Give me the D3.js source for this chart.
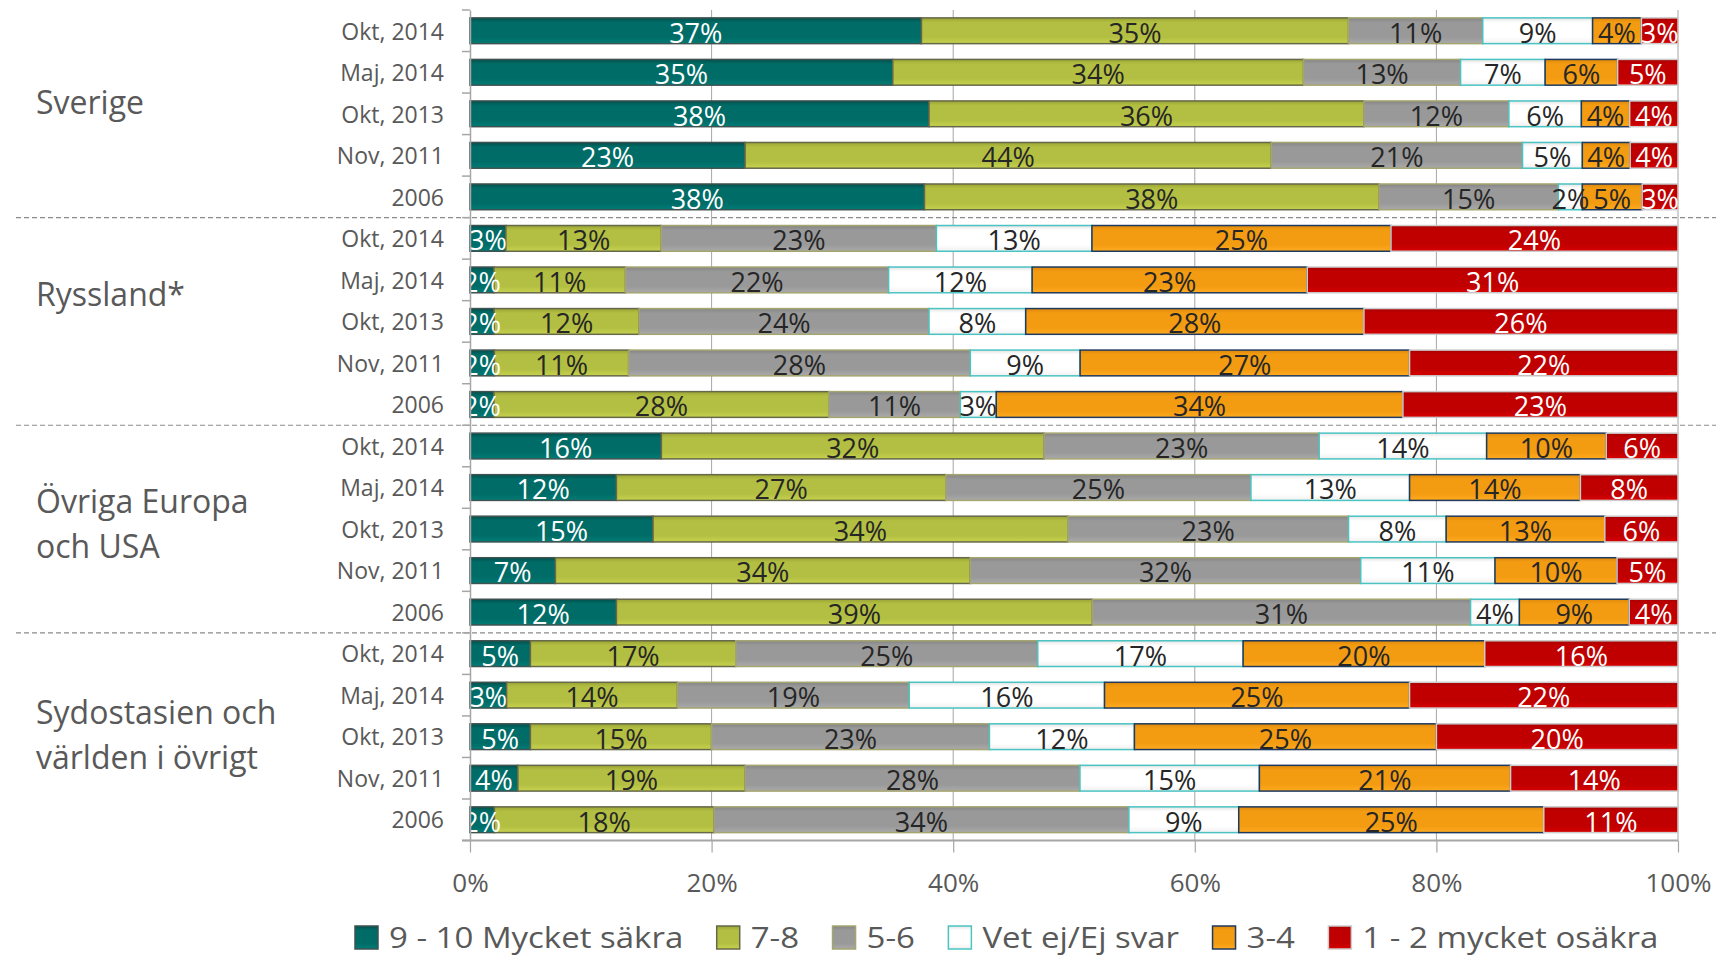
<!DOCTYPE html>
<html>
<head>
<meta charset="utf-8">
<script src="https://cdn.jsdelivr.net/npm/d3@7.9.0/dist/d3.min.js"></script>
<style>
  body { margin: 0; background: #fff; }
  svg { display: block; font-family: "Open Sans", sans-serif; }
</style>
</head>
<body>
<svg id="chart" width="1716" height="957"></svg>
<script>
// data
const groups = ['Sverige', 'Ryssland*', 'Övriga Europa och USA', 'Sydostasien och världen i övrigt'];
const groupLines = [['Sverige'], ['Ryssland*'], ['Övriga Europa', 'och USA'], ['Sydostasien och', 'världen i övrigt']];
const periods = ['Okt, 2014', 'Maj, 2014', 'Okt, 2013', 'Nov, 2011', '2006'];
const series = ['9 - 10 Mycket säkra', '7-8', '5-6', 'Vet ej/Ej svar', '3-4', '1 - 2 mycket osäkra'];
const xTicks = [0, 0.2, 0.4, 0.6, 0.8, 1];

const sverige = [
  [37, 35, 11, 9, 4, 3],
  [35, 34, 13, 7, 6, 5],
  [38, 36, 12, 6, 4, 4],
  [23, 44, 21, 5, 4, 4],
  [38, 38, 15, 2, 5, 3]
];
const ryssland = [
  [3, 13, 23, 13, 25, 24],
  [2, 11, 22, 12, 23, 31],
  [2, 12, 24, 8, 28, 26],
  [2, 11, 28, 9, 27, 22],
  [2, 28, 11, 3, 34, 23]
];
const ovrigaEuropa = [
  [16, 32, 23, 14, 10, 6],
  [12, 27, 25, 13, 14, 8],
  [15, 34, 23, 8, 13, 6],
  [7, 34, 32, 11, 10, 5],
  [12, 39, 31, 4, 9, 4]
];
const sydostasien = [
  [5, 17, 25, 17, 20, 16],
  [3, 14, 19, 16, 25, 22],
  [5, 15, 23, 12, 25, 20],
  [4, 19, 28, 15, 21, 14],
  [2, 18, 34, 9, 25, 11]
];
const groupValues = [sverige, ryssland, ovrigaEuropa, sydostasien];

// styling per series: gradient top / middle / bottom, outline, label colour
const fills = [
  ['#00504c', '#006c67', '#007c76'],
  ['#9aa535', '#b3bf42', '#c6d24d'],
  ['#858585', '#999999', '#aaaaaa'],
  ['#e4e4e4', '#ffffff', '#f0f0f0'],
  ['#df890c', '#f39c12', '#ffaa20'],
  ['#a80000', '#c00000', '#d80000']
];
const outlines = ['#3e5250', '#66684a', '#a5a570', '#4bc3c3', '#1f3a5f', '#cccccc'];
const labelColors = ['#ffffff', '#262626', '#262626', '#262626', '#262626', '#ffffff'];

const textGray = '#595959';
const axisGray = '#a6a6a6';

const svg = d3.select('#chart');
const plotLeft = 470, plotRight = 1678, plotTop = 10, plotBottom = 840.5;

const rows = groups.flatMap((g, gi) => periods.map((p, pi) => ({
  key: gi + '|' + p,
  group: gi,
  period: p,
  values: groupValues[gi][pi]
})));

const x = d3.scaleLinear().domain([0, 1]).range([plotLeft, plotRight]);
const y = d3.scaleBand()
  .domain(rows.map(d => d.key))
  .range([plotTop, plotBottom])
  .paddingInner(0.38)
  .paddingOuter(0.19);

const stack = d3.stack()
  .keys(d3.range(series.length))
  .value((d, k) => d.values[k])
  .offset(d3.stackOffsetExpand);
const layers = stack(rows);

// gradients
const defs = svg.append('defs');
fills.forEach((f, i) => {
  const g = defs.append('linearGradient')
    .attr('id', 'grad' + i)
    .attr('x1', 0).attr('y1', 0).attr('x2', 0).attr('y2', 1);
  g.append('stop').attr('offset', '0%').attr('stop-color', f[0]);
  g.append('stop').attr('offset', '18%').attr('stop-color', f[1]);
  g.append('stop').attr('offset', '75%').attr('stop-color', f[1]);
  g.append('stop').attr('offset', '100%').attr('stop-color', f[2]);
});
defs.append('clipPath').attr('id', 'plotClip')
  .append('rect')
  .attr('x', plotLeft).attr('y', plotTop)
  .attr('width', plotRight - plotLeft).attr('height', plotBottom - plotTop);

// gridlines
svg.append('g')
  .selectAll('line')
  .data(xTicks.slice(1))
  .join('line')
  .attr('x1', d => x(d)).attr('x2', d => x(d))
  .attr('y1', plotTop).attr('y2', plotBottom)
  .attr('stroke', axisGray)
  .attr('stroke-width', 1);

// group separators
const step = y.step();
const gap = step * y.paddingInner() / 2;
svg.append('g')
  .selectAll('line')
  .data(groups.slice(1).map((g, i) => rows[(i + 1) * periods.length].key))
  .join('line')
  .attr('x1', 16).attr('x2', 1716)
  .attr('y1', d => y(d) - gap).attr('y2', d => y(d) - gap)
  .attr('stroke', '#8c8c8c')
  .attr('stroke-width', 1.2)
  .attr('stroke-dasharray', '5,3');

// bars
const barGroup = svg.append('g');
layers.forEach((layer, k) => {
  barGroup.append('g')
    .selectAll('rect')
    .data(layer)
    .join('rect')
    .attr('x', d => x(d[0]))
    .attr('y', d => y(d.data.key))
    .attr('width', d => x(d[1]) - x(d[0]))
    .attr('height', y.bandwidth())
    .attr('fill', `url(#grad${k})`)
    .attr('stroke', outlines[k])
    .attr('stroke-width', 1.5);
});

// data labels
const labelGroup = svg.append('g').attr('clip-path', 'url(#plotClip)');
layers.forEach((layer, k) => {
  labelGroup.append('g')
    .selectAll('text')
    .data(layer)
    .join('text')
    .attr('x', d => (x(d[0]) + x(d[1])) / 2)
    .attr('y', d => y(d.data.key) + y.bandwidth() - 1)
    .attr('text-anchor', 'middle')
    .attr('font-size', 27)
    .attr('fill', labelColors[k])
    .text(d => d.data.values[k] + '%');
});

// y axis
const yAxis = svg.append('g')
  .attr('transform', `translate(${plotLeft},0)`)
  .call(d3.axisLeft(y).tickSize(0).tickSizeOuter(0).tickPadding(26)
    .tickFormat(d => d.split('|')[1]));
yAxis.select('.domain').attr('stroke', axisGray).attr('stroke-width', 1.5);
yAxis.selectAll('text')
  .attr('font-size', 23)
  .attr('font-family', '"Open Sans", sans-serif')
  .attr('fill', textGray)
  .attr('dy', '0.38em');

// y boundary ticks
svg.append('g')
  .selectAll('line')
  .data(rows.map(d => y(d.key) - gap).concat([plotBottom]))
  .join('line')
  .attr('x1', plotLeft - 8).attr('x2', plotLeft)
  .attr('y1', d => d).attr('y2', d => d)
  .attr('stroke', axisGray)
  .attr('stroke-width', 1.5);

// x axis
const xAxis = svg.append('g')
  .attr('transform', `translate(0,${plotBottom})`)
  .call(d3.axisBottom(x).tickValues(xTicks).tickSize(12).tickSizeOuter(0).tickPadding(21)
    .tickFormat(d3.format('.0%')));
xAxis.select('.domain').attr('stroke', axisGray).attr('stroke-width', 2)
  .attr('d', `M${plotLeft - 8},0H${plotRight}`);
xAxis.selectAll('line').attr('stroke', axisGray).attr('stroke-width', 1.2);
xAxis.selectAll('text')
  .attr('font-size', 26)
  .attr('font-family', '"Open Sans", sans-serif')
  .attr('fill', textGray);

// group labels
const groupOffset = [0, -15, -16, -13];
groupLines.forEach((lines, gi) => {
  const mid = rows[gi * periods.length + 2].key;
  const base = y(mid) + y.bandwidth() / 2 + groupOffset[gi];
  const t = svg.append('text')
    .attr('x', 36)
    .attr('y', base)
    .attr('font-size', 32)
    .attr('fill', textGray);
  lines.forEach((line, li) => {
    t.append('tspan')
      .attr('x', 36)
      .attr('dy', li === 0 ? 0 : 45)
      .text(line);
  });
});

// legend (text stretched a little, like the original)
const legend = svg.append('g');
const stretch = 1.1;
let lx = 355;
series.forEach((s, i) => {
  legend.append('rect')
    .attr('x', lx).attr('y', 926)
    .attr('width', 23).attr('height', 23)
    .attr('fill', `url(#grad${i})`)
    .attr('stroke', outlines[i])
    .attr('stroke-width', 1.5);
  const t = legend.append('text')
    .attr('transform', `translate(${lx + 34},948) scale(${stretch},1)`)
    .attr('font-size', 30)
    .attr('fill', textGray)
    .text(s);
  lx += 34 + t.node().getComputedTextLength() * stretch + 33.5;
});
</script>
</body>
</html>
